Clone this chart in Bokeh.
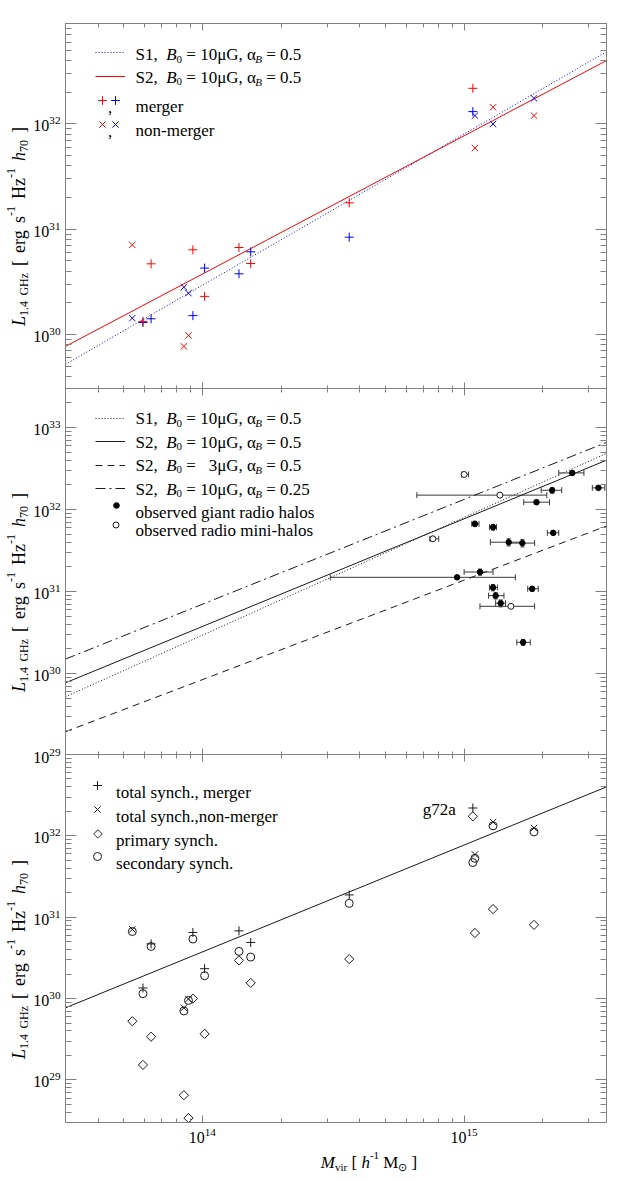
import re
import numpy as np
from bokeh.plotting import figure
from bokeh.layouts import column, row
from bokeh.models import (Range1d, LogAxis, FixedTicker, Label, Legend, LegendItem,
                          ColumnDataSource, Whisker, TeeHead, CustomJSTickFormatter)
from bokeh.embed import file_html
from bokeh.resources import INLINE

# ------------------------------------------------------------------ data
M_RANGE = [3.0e13, 3.5e15]
L_RANGE_TOP = [3.0e29, 9.0e32]
L_RANGE_MID = [0.999e29, 3.0e33]
L_RANGE_BOT = [3.0e28, 1.0e33]

X_MAJOR = [1e14, 1e15]
X_MINOR = [float(k) * 10.0 ** e for e in (13, 14, 15) for k in range(2, 10)
           if M_RANGE[0] <= k * 10.0 ** e <= M_RANGE[1]]
Y1_MAJOR = [1e30, 1e31, 1e32]
Y2_MAJOR = [1e29, 1e30, 1e31, 1e32, 1e33]
Y3_MAJOR = [1e29, 1e30, 1e31, 1e32]


def minors(lo, hi):
    return [float(k) * 10.0 ** e for e in range(27, 34) for k in range(2, 10)
            if lo <= k * 10.0 ** e <= hi]


Y1_MINOR = minors(*L_RANGE_TOP)
Y2_MINOR = minors(*L_RANGE_MID)
Y3_MINOR = minors(*L_RANGE_BOT)

# model scaling relations (end points of straight log-log lines)
MODEL_M = [3.0e13, 3.5e15]
S1_B10_A05 = [5.2e29, 4.85e32]
S2_B10_A05 = [7.7e29, 4.0e32]
S2_B3_A05 = [1.95e29, 6.3e31]
S2_B10_A025 = [1.5e30, 6.6e32]

# simulated clusters
MERGER_M = [1.08e15, 3.64e14, 1.53e14, 1.02e14, 1.38e14, 9.2e13, 6.37e13, 5.93e13]
MERGER_L_S2 = [2.18e32, 1.78e31, 4.72e30, 2.30e30, 6.70e30, 6.37e30, 4.69e30, 1.33e30]
MERGER_L_S1 = [1.31e32, 8.4e30, 6.1e30, 4.27e30, 3.77e30, 1.51e30, 1.41e30, 1.30e30]
NONMERGER_M = [5.4e13, 1.29e15, 1.85e15, 1.10e15, 8.85e13, 8.5e13]
NONMERGER_L_S2 = [7.1e30, 1.44e32, 1.20e32, 5.9e31, 9.8e29, 7.7e29]
NONMERGER_L_S1 = [1.43e30, 1.00e32, 1.75e32, 1.20e32, 2.47e30, 2.81e30]

TOTAL_MERGER = [2.20e32, 1.88e31, 4.9e30, 2.33e30, 6.8e30, 6.5e30, 4.7e30, 1.35e30]
TOTAL_NONMERGER = [7.1e30, 1.48e32, 1.25e32, 5.9e31, 9.9e29, 7.7e29]
PRIMARY_MERGER = [1.74e32, 3.06e30, 1.56e30, 3.69e29, 2.95e30, 1.0e30, 3.4e29, 1.53e29]
PRIMARY_NONMERGER = [5.27e29, 1.26e31, 8.05e30, 6.4e30, 3.4e28, 6.5e28]
SECONDARY_MERGER = [4.7e31, 1.48e31, 3.24e30, 1.91e30, 3.8e30, 5.4e30, 4.37e30, 1.15e30]
SECONDARY_NONMERGER = [6.67e30, 1.33e32, 1.12e32, 5.3e31, 9.5e29, 7.05e29]

# observed radio halos
GIANT_M = [2.59e15, 3.26e15, 2.17e15, 1.89e15, 1.10e15, 1.29e15, 2.19e15, 1.48e15,
           1.67e15, 1.15e15, 9.4e14, 1.29e15, 1.82e15, 1.32e15, 1.38e15, 1.68e15]
GIANT_M_LO = [2.30e15, 3.09e15, 1.97e15, 1.69e15, 1.07e15, 1.25e15, 2.08e15, 1.26e15,
              1.48e15, 1.00e15, 3.08e14, 1.25e15, 1.75e15, 1.24e15, 1.32e15, 1.59e15]
GIANT_M_HI = [2.87e15, 3.45e15, 2.36e15, 2.12e15, 1.14e15, 1.33e15, 2.30e15, 1.67e15,
              1.86e15, 1.29e15, 1.57e15, 1.34e15, 1.92e15, 1.42e15, 1.44e15, 1.79e15]
GIANT_L = [2.8e32, 1.84e32, 1.72e32, 1.23e32, 6.7e31, 6.1e31, 5.2e31, 4.0e31,
           3.9e31, 1.73e31, 1.49e31, 1.12e31, 1.08e31, 8.9e30, 7.2e30, 2.4e30]
GIANT_L_LO = [2.6e32, 1.74e32, 1.58e32, 1.15e32, 6.2e31, 5.6e31, 4.9e31, 3.6e31,
              3.5e31, 1.58e31, 1.44e31, 1.02e31, 1.01e31, 8.1e30, 6.5e30, 2.2e30]
GIANT_L_HI = [3.0e32, 1.94e32, 1.86e32, 1.31e32, 7.2e31, 6.6e31, 5.5e31, 4.4e31,
              4.3e31, 1.88e31, 1.54e31, 1.22e31, 1.15e31, 9.7e30, 7.9e30, 2.6e30]
MINI_M = [1.0e15, 1.37e15, 7.6e14, 1.51e15]
MINI_M_LO = [9.8e14, 6.6e14, 7.4e14, 1.15e15]
MINI_M_HI = [1.04e15, 2.07e15, 8.0e14, 1.86e15]
MINI_L = [2.68e32, 1.5e32, 4.4e31, 6.6e30]

LABEL_G72A = "g72a"
G72A_POS = [9.3e14, 2.1e32]

# ------------------------------------------------------------------ style
FONT = "Liberation Serif"
AX = "#808080"
INK = "#1a1a1a"
ERR = "#3a3a3a"
FRAME_W = 541
YLAB_W = 30
LEFT_B = 33
RIGHT_B = 12
H1, H2, H3 = 366, 367, 368
TOP_B = 23
GAP_B = 10         # bottom border of panel 2 that holds the lower half of its 10^29 label
BOT_B = 26
XLAB_H = 26

REG = {' ': 250, ',': 250, '.': 250, '-': 333, '=': 564, '[': 333, ']': 333,
       'μ': 500, 'α': 520, '⊙': 800,
       'A': 722, 'B': 667, 'G': 722, 'H': 722, 'L': 611, 'M': 889, 'S': 556,
       'a': 444, 'b': 500, 'c': 444, 'd': 500, 'e': 444, 'g': 500, 'h': 500,
       'i': 278, 'l': 278, 'm': 778, 'n': 500, 'o': 500, 'p': 500, 'r': 333,
       's': 389, 't': 278, 'u': 500, 'v': 500, 'y': 500, 'z': 444, 'x': 500}
ITA = {'B': 611, 'L': 556, 'M': 833, 'h': 500, 'v': 444, 'i': 278, 'r': 389}


def tw(s, size, italic):
    tbl = ITA if italic else REG
    return sum(tbl.get(c, REG.get(c, 500)) for c in s) * size / 1000.0


def style_of(kind, base):
    sub = round(base * 0.65)
    return {"n": (base, 0.0, False), "i": (base, 0.0, True),
            "sub": (sub, -0.25 * base, False), "subi": (sub, -0.25 * base, True),
            "sup": (sub, 0.42 * base, False)}[kind]


def layout_runs(runs, base, split, space_extra):
    pieces, pos = [], 0.0
    for txt, kind in runs:
        size, dy, it = style_of(kind, base)
        sw = 0.25 * size + space_extra
        for chunk in re.split(split, txt):
            if not chunk:
                continue
            if chunk.strip(' ') == "":
                pos += len(chunk) * sw
                continue
            body = chunk.strip(' ')
            lead = len(chunk) - len(chunk.lstrip(' '))
            trail = len(chunk) - len(chunk.rstrip(' '))
            pos += lead * sw
            pieces.append((body, pos, size, dy, it))
            pos += tw(body, size, it)
            pos += trail * sw
    return pieces, pos


def put_runs(p, runs, x0, y0, base=17, rotate=False, center=False,
             split=r'( {2,})', space_extra=0.0, color="black"):
    pieces, total = layout_runs(runs, base, split, space_extra)
    off = -total / 2.0 if center else 0.0
    for body, pos, size, dy, it in pieces:
        kw = dict(text=body, x_units="screen", y_units="screen", text_font=FONT,
                  text_font_size=f"{size}px", text_color=color,
                  text_font_style="italic" if it else "normal",
                  text_align="left", text_baseline="alphabetic")
        if rotate:
            lab = Label(x=x0 - dy, y=y0 + off + pos, angle=np.pi / 2, **kw)
        else:
            lab = Label(x=x0 + off + pos, y=y0 + dy, **kw)
        p.add_layout(lab)


def style_axis(ax, maj, mnr, labelled):
    ax.major_tick_in = maj
    ax.major_tick_out = 0
    ax.minor_tick_in = mnr
    ax.minor_tick_out = 0
    ax.axis_line_color = AX
    ax.major_tick_line_color = AX
    ax.minor_tick_line_color = AX
    if labelled:
        ax.major_label_text_font = FONT
        ax.major_label_text_font_size = "16px"
        ax.major_label_text_color = "black"
        ax.major_label_standoff = 5
    else:
        ax.formatter = CustomJSTickFormatter(code="return ''")
        ax.major_label_text_font_size = "1px"
        ax.major_label_standoff = 0


def base_fig(yr, fh, top, bottom, **kw):
    p = figure(x_axis_type="log", y_axis_type="log",
               x_range=Range1d(*M_RANGE), y_range=Range1d(*yr),
               frame_width=FRAME_W, frame_height=fh,
               min_border_left=LEFT_B, min_border_right=RIGHT_B,
               min_border_top=top, min_border_bottom=bottom,
               x_axis_location=None, y_axis_location=None,
               output_backend="svg", toolbar_location=None, **kw)
    p.xgrid.visible = False
    p.ygrid.visible = False
    p.outline_line_color = AX
    p.background_fill_color = "white"
    p.border_fill_color = "white"
    return p


def blank_fig(w, h):
    p = figure(width=w, height=h, min_border=0, x_range=Range1d(0, 1), y_range=Range1d(0, 1),
               x_axis_location=None, y_axis_location=None,
               output_backend="svg", toolbar_location=None)
    p.xgrid.visible = False
    p.ygrid.visible = False
    p.outline_line_color = None
    p.border_fill_color = None
    p.background_fill_color = None
    return p


def add_axes(p, y_major, y_minor, x_labels):
    for side in ("left", "right"):
        ax = LogAxis(ticker=FixedTicker(ticks=y_major, minor_ticks=y_minor))
        style_axis(ax, 11, 6, side == "left")
        p.add_layout(ax, side)
    for side in ("below", "above"):
        ax = LogAxis(ticker=FixedTicker(ticks=X_MAJOR, minor_ticks=X_MINOR))
        style_axis(ax, 7, 4, side == "below" and x_labels)
        p.add_layout(ax, side)


def key(p, renderer, cx, cy, gw=22, gh=22):
    lg = Legend(items=[LegendItem(label=" ", renderers=[renderer])],
                location=(cx - gw / 2.0, cy - gh / 2.0),
                glyph_width=gw, glyph_height=gh, padding=0, margin=0, spacing=0,
                label_standoff=0, label_width=1, label_height=gh,
                label_text_font_size="2px", border_line_color=None,
                background_fill_alpha=0)
    p.add_layout(lg)


YLABEL = [("L", "i"), ("1.4 GHz", "sub"), (" [ erg s", "n"), ("-1", "sup"),
          (" Hz", "n"), ("-1", "sup"), (" ", "n"), ("h", "i"), ("70", "sub"), (" ]", "n")]
XLABEL = [("M", "i"), ("vir", "sub"), (" [ ", "n"), ("h", "i"), ("-1", "sup"),
          (" M", "n"), ("⊙", "sub"), (" ]", "n")]

# ------------------------------------------------------------------ panel 1
p1 = base_fig(L_RANGE_TOP, H1, TOP_B, 0)
add_axes(p1, Y1_MAJOR, Y1_MINOR, False)
r1_s1 = p1.line(MODEL_M, S1_B10_A05, line_color="blue", line_dash="1 2", line_width=1)
r1_s2 = p1.line(MODEL_M, S2_B10_A05, line_color="red", line_width=1)
rb_m = p1.scatter(MERGER_M, MERGER_L_S1, marker="cross", size=9, line_color="blue")
rb_n = p1.scatter(NONMERGER_M, NONMERGER_L_S1, marker="x", size=9, line_color="blue")
rr_m = p1.scatter(MERGER_M, MERGER_L_S2, marker="cross", size=9, line_color="red")
rr_n = p1.scatter(NONMERGER_M, NONMERGER_L_S2, marker="x", size=9, line_color="red")

key(p1, r1_s1, 45, 337, gw=30, gh=12)
key(p1, r1_s2, 45, 313, gw=30, gh=12)
key(p1, rr_m, 37.3, 288.7)
key(p1, rb_m, 50, 288.7)
key(p1, rr_n, 37.3, 264.7)
key(p1, rb_n, 50, 264.7)
put_runs(p1, [(",", "n")], 42.5, 282.5)
put_runs(p1, [(",", "n")], 42.5, 258.5)
put_runs(p1, [("S1,  ", "n"), ("B", "i"), ("0", "sub"), (" = 10μG, α", "n"),
              ("B", "subi"), (" = 0.5", "n")], 70, 334.7)
put_runs(p1, [("S2,  ", "n"), ("B", "i"), ("0", "sub"), (" = 10μG, α", "n"),
              ("B", "subi"), (" = 0.5", "n")], 70, 312)
put_runs(p1, [("merger", "n")], 70, 282.7)
put_runs(p1, [("non-merger", "n")], 70, 258.7)

# ------------------------------------------------------------------ panel 2
p2 = base_fig(L_RANGE_MID, H2, 0, GAP_B, styles={"margin-top": "-1px"})
add_axes(p2, Y2_MAJOR, Y2_MINOR, False)
r2_s1 = p2.line(MODEL_M, S1_B10_A05, line_color=INK, line_dash="1 2", line_width=1)
r2_s2 = p2.line(MODEL_M, S2_B10_A05, line_color=INK, line_width=1)
r2_b3 = p2.line(MODEL_M, S2_B3_A05, line_color=INK, line_dash="7 5", line_width=1)
r2_a25 = p2.line(MODEL_M, S2_B10_A025, line_color=INK, line_dash="10 4 2 4", line_width=1)

src_g = ColumnDataSource(dict(m=GIANT_M, mlo=GIANT_M_LO, mhi=GIANT_M_HI,
                              L=GIANT_L, Llo=GIANT_L_LO, Lhi=GIANT_L_HI))
src_m = ColumnDataSource(dict(m=MINI_M, mlo=MINI_M_LO, mhi=MINI_M_HI, L=MINI_L))
for src in (src_g, src_m):
    p2.add_layout(Whisker(source=src, base="L", lower="mlo", upper="mhi", dimension="width",
                          line_color=ERR, line_width=1,
                          upper_head=TeeHead(size=6, line_color=ERR, line_width=1),
                          lower_head=TeeHead(size=6, line_color=ERR, line_width=1)))
p2.add_layout(Whisker(source=src_g, base="m", lower="Llo", upper="Lhi", dimension="height",
                      line_color=ERR, line_width=1,
                      upper_head=TeeHead(size=4, line_color=ERR, line_width=1),
                      lower_head=TeeHead(size=4, line_color=ERR, line_width=1)))
r2_g = p2.scatter("m", "L", source=src_g, marker="circle", size=5.5,
                  fill_color="black", line_color="black")
r2_m = p2.scatter("m", "L", source=src_m, marker="circle", size=6,
                  fill_color="white", line_color=INK)

key(p2, r2_s1, 45, 337, gw=30, gh=12)
key(p2, r2_s2, 45, 314.3, gw=30, gh=12)
key(p2, r2_b3, 45, 290.5, gw=30, gh=12)
key(p2, r2_a25, 45, 267, gw=30, gh=12)
key(p2, r2_g, 50.9, 250, gw=14, gh=14)
key(p2, r2_m, 50.9, 231, gw=15, gh=15)
put_runs(p2, [("S1,  ", "n"), ("B", "i"), ("0", "sub"), (" = 10μG, α", "n"),
              ("B", "subi"), (" = 0.5", "n")], 70, 336.7)
put_runs(p2, [("S2,  ", "n"), ("B", "i"), ("0", "sub"), (" = 10μG, α", "n"),
              ("B", "subi"), (" = 0.5", "n")], 70, 313.3)
put_runs(p2, [("S2,  ", "n"), ("B", "i"), ("0", "sub"), (" =   3μG, α", "n"),
              ("B", "subi"), (" = 0.5", "n")], 70, 290)
put_runs(p2, [("S2,  ", "n"), ("B", "i"), ("0", "sub"), (" = 10μG, α", "n"),
              ("B", "subi"), (" = 0.25", "n")], 70, 266)
put_runs(p2, [("observed giant radio halos", "n")], 70, 242.7)
put_runs(p2, [("observed radio mini-halos", "n")], 70, 225)

# ------------------------------------------------------------------ panel 3
# slides up over the (transparent) bottom border of panel 2 so that the two frames meet
p3 = base_fig(L_RANGE_BOT, H3, GAP_B, BOT_B,
              styles={"margin-top": f"-{2 * GAP_B + 1}px"})
p3.border_fill_color = None
add_axes(p3, Y3_MAJOR, Y3_MINOR, True)
p3.line(MODEL_M, S2_B10_A05, line_color=INK, line_width=1)
r3_p = p3.scatter(MERGER_M, TOTAL_MERGER, marker="cross", size=9, line_color=INK)
r3_x = p3.scatter(NONMERGER_M, TOTAL_NONMERGER, marker="x", size=9, line_color=INK)
r3_d = p3.scatter(MERGER_M + NONMERGER_M, PRIMARY_MERGER + PRIMARY_NONMERGER,
                  marker="square", angle=np.pi / 4, size=6.5,
                  fill_color=None, line_color=INK)
r3_o = p3.scatter(MERGER_M + NONMERGER_M, SECONDARY_MERGER + SECONDARY_NONMERGER,
                  marker="circle", size=8, fill_color=None, line_color=INK)
p3.add_layout(Label(x=G72A_POS[0], y=G72A_POS[1], text=LABEL_G72A, text_font=FONT,
                    text_font_size="17px", text_color="black",
                    text_align="right", text_baseline="alphabetic"))

key(p3, r3_p, 32.3, 336.7)
key(p3, r3_x, 32.3, 312.7)
p3.add_layout(Label(x=32.3, y=290, x_units="screen", y_units="screen", text="◇",
                    text_font="DejaVu Sans", text_font_size="12px", text_color=INK,
                    text_align="center", text_baseline="middle"))
key(p3, r3_o, 32.3, 266, gw=20, gh=20)
put_runs(p3, [("total synch., merger", "n")], 50.6, 330.4)
put_runs(p3, [("total synch.,non-merger", "n")], 50.6, 306)
put_runs(p3, [("primary synch.", "n")], 50.6, 282)
put_runs(p3, [("secondary synch.", "n")], 50.6, 258.7)

# ------------------------------------------------------------------ axis titles
PANEL_BOTTOMS = [TOP_B + H1, TOP_B + H1 + H2 - 1, TOP_B + H1 + H2 + H3 - 2]
YLAB_H = PANEL_BOTTOMS[2]
ylab = blank_fig(YLAB_W, YLAB_H)
for pb in PANEL_BOTTOMS:
    put_runs(ylab, YLABEL, 18.5, YLAB_H - pb + 163, base=18, rotate=True, center=True,
             split=r'( +)', space_extra=2.5)

xlab = blank_fig(LEFT_B + FRAME_W + RIGHT_B, XLAB_H)
put_runs(xlab, XLABEL, LEFT_B + FRAME_W / 2.0, 12, base=17, center=True)

layout = row(ylab, column(p1, p2, p3, xlab, spacing=0), spacing=0)
open("out.html", "w").write(file_html(layout, INLINE))
